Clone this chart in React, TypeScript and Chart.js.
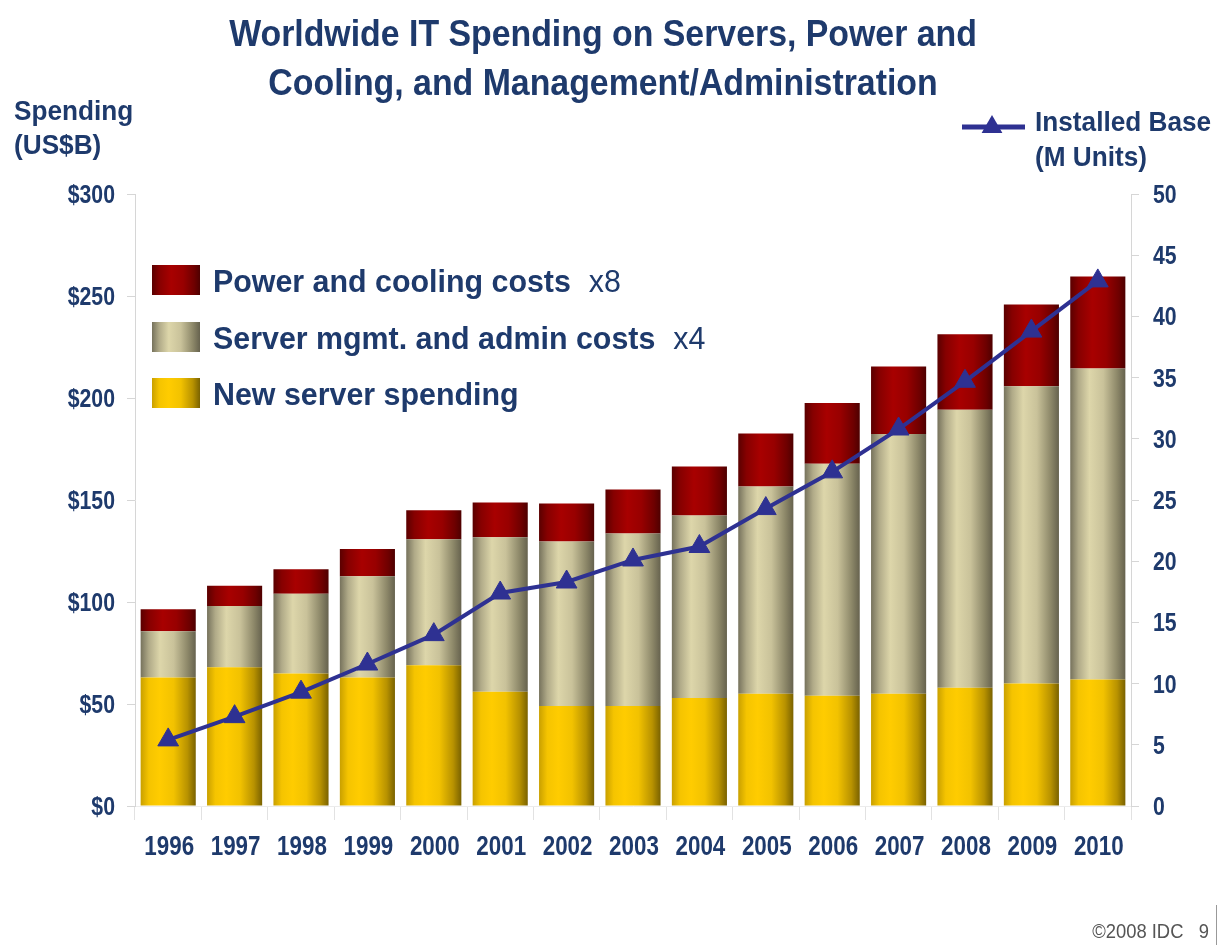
import React, { useEffect, useRef } from "react";
import { Chart, registerables } from "chart.js";

Chart.register(...registerables);

const YEARS = ["1996", "1997", "1998", "1999", "2000", "2001", "2002", "2003", "2004", "2005", "2006", "2007", "2008", "2009", "2010"];
const NEW_SERVER = [63, 68, 65, 63, 69, 56, 49, 49, 53, 55, 54, 55, 58, 60, 62];
const MGMT_ADMIN = [22.7, 30, 39, 49.6, 61.7, 75.7, 80.7, 84.6, 89.4, 101.6, 113.8, 127.4, 136.2, 145.8, 152.5];
const POWER_COOLING = [10.7, 10, 12, 13.4, 14.3, 17.1, 18.6, 21.6, 24, 26, 29.8, 33.1, 37.1, 40, 45];
const INSTALLED_BASE = [5.4, 7.3, 9.3, 11.6, 14, 17.4, 18.3, 20.1, 21.2, 24.3, 27.3, 30.8, 34.7, 38.8, 42.9];

const TITLE_LINES = ["Worldwide IT Spending on Servers, Power and", "Cooling, and Management/Administration"];
const LEFT_AXIS_TITLE = ["Spending", "(US$B)"];
const RIGHT_AXIS_TITLE = ["Installed Base", "(M Units)"];
const LEGEND_ITEMS = [
  { label: "Power and cooling costs", mult: "x8" },
  { label: "Server mgmt. and admin costs", mult: "x4" },
  { label: "New server spending", mult: "" },
];
const FOOTER = "\u00A92008 IDC   9";

const NAVY = "#1e3a6c";
const LINE_COLOR = "#2e3192";
const BAR_PCT = 0.83;
const SANS = '"Liberation Sans", Arial, sans-serif';

type Stop = [number, string];
const YELLOW_STOPS: Stop[] = [[0, "#c9a000"], [0.15, "#f5c400"], [0.35, "#ffcc00"], [0.6, "#f2c200"], [0.85, "#b89200"], [1, "#7a6200"]];
const TAN_STOPS: Stop[] = [[0, "#76725c"], [0.15, "#b0aa88"], [0.35, "#ddd6aa"], [0.6, "#c9c29a"], [0.85, "#8d8869"], [1, "#66624e"]];
const RED_STOPS: Stop[] = [[0, "#5a0000"], [0.15, "#860000"], [0.4, "#a80000"], [0.65, "#980000"], [0.88, "#6e0000"], [1, "#4e0000"]];

function makeGrad(ctx: CanvasRenderingContext2D, x0: number, x1: number, stops: Stop[]) {
  const g = ctx.createLinearGradient(x0, 0, x1, 0);
  stops.forEach(([o, c]) => g.addColorStop(o, c));
  return g;
}

function barFill(stops: Stop[]) {
  return (c: any) => {
    const chart = c.chart;
    const xs = chart.scales && chart.scales.x;
    if (!xs || c.type !== "data" || !chart.chartArea) return stops[2][1];
    const cx = xs.getPixelForValue(c.dataIndex);
    const w = (xs.width / YEARS.length) * BAR_PCT;
    return makeGrad(chart.ctx, cx - w / 2, cx + w / 2, stops);
  };
}

function drawTriangle(ctx: CanvasRenderingContext2D, x: number, y: number, r: number) {
  ctx.beginPath();
  ctx.moveTo(x, y - r);
  ctx.lineTo(x + r * 0.866, y + r * 0.5);
  ctx.lineTo(x - r * 0.866, y + r * 0.5);
  ctx.closePath();
  ctx.fill();
}

// condensed text: draws with a horizontal squeeze
function condText(ctx: CanvasRenderingContext2D, text: string, x: number, y: number, align: CanvasTextAlign, sx: number) {
  ctx.save();
  ctx.translate(x, y);
  ctx.scale(sx, 1);
  ctx.textAlign = align;
  ctx.fillText(text, 0, 0);
  ctx.restore();
}

const tickLabelPlugin = {
  id: "tickLabelPlugin",
  afterDraw(chart: any) {
    const ctx: CanvasRenderingContext2D = chart.ctx;
    ctx.save();
    ctx.fillStyle = NAVY;
    ctx.textBaseline = "alphabetic";
    const xs = chart.scales.x;
    ctx.font = `bold 28px ${SANS}`;
    xs.ticks.forEach((t: any, i: number) => {
      const px = xs.getPixelForTick(i);
      condText(ctx, String(xs.getLabelForValue(t.value)), px + 1, 855, "center", 0.8);
    });
    const ys = chart.scales.y;
    ctx.font = `bold 25px ${SANS}`;
    ys.ticks.forEach((t: any) => {
      const py = ys.getPixelForValue(t.value);
      condText(ctx, "$" + t.value, 115, py + 9, "right", 0.85);
    });
    const y1 = chart.scales.y1;
    y1.ticks.forEach((t: any) => {
      const py = y1.getPixelForValue(t.value);
      condText(ctx, String(t.value), 1153, py + 9, "left", 0.85);
    });
    ctx.restore();
  },
};

const textPlugin = {
  id: "textPlugin",
  afterDraw(chart: any) {
    const ctx: CanvasRenderingContext2D = chart.ctx;
    ctx.save();
    ctx.fillStyle = NAVY;
    ctx.textBaseline = "alphabetic";

    // Title
    ctx.font = `bold 36px ${SANS}`;
    condText(ctx, TITLE_LINES[0], 603, 46, "center", 0.94);
    condText(ctx, TITLE_LINES[1], 603, 95, "center", 0.94);

    // Axis titles
    ctx.font = `bold 27px ${SANS}`;
    condText(ctx, LEFT_AXIS_TITLE[0], 14, 120, "left", 0.97);
    condText(ctx, LEFT_AXIS_TITLE[1], 14, 154, "left", 0.97);
    condText(ctx, RIGHT_AXIS_TITLE[0], 1035, 131, "left", 0.97);
    condText(ctx, RIGHT_AXIS_TITLE[1], 1035, 166, "left", 0.97);

    // Installed base legend marker
    ctx.strokeStyle = LINE_COLOR;
    ctx.lineWidth = 5;
    ctx.beginPath();
    ctx.moveTo(962, 127);
    ctx.lineTo(1025, 127);
    ctx.stroke();
    ctx.fillStyle = LINE_COLOR;
    drawTriangle(ctx, 992, 127, 12);

    // Legend
    const legendStops = [RED_STOPS, TAN_STOPS, YELLOW_STOPS];
    const rowTops = [265, 322, 378];
    LEGEND_ITEMS.forEach((item, i) => {
      const y = rowTops[i];
      ctx.fillStyle = makeGrad(ctx, 152, 200, legendStops[i]);
      ctx.fillRect(152, y, 48, 30);
      ctx.fillStyle = NAVY;
      ctx.font = `bold 31px ${SANS}`;
      const sx = 0.98;
      condText(ctx, item.label, 213, y + 27, "left", sx);
      if (item.mult) {
        const w = ctx.measureText(item.label).width * sx;
        ctx.font = `31px ${SANS}`;
        condText(ctx, item.mult, 213 + w + 18, y + 27, "left", sx);
      }
    });

    // Footer
    ctx.font = `20px ${SANS}`;
    ctx.fillStyle = "#555555";
    condText(ctx, FOOTER, 1209, 938, "right", 0.92);
    ctx.strokeStyle = "#999999";
    ctx.lineWidth = 1;
    ctx.beginPath();
    ctx.moveTo(1216.5, 905);
    ctx.lineTo(1216.5, 945);
    ctx.stroke();
    ctx.restore();
  },
};

export default function App() {
  const canvasRef = useRef<HTMLCanvasElement | null>(null);

  useEffect(() => {
    if (!canvasRef.current) return;
    const chart = new Chart(canvasRef.current, {
      type: "bar",
      data: {
        labels: YEARS,
        datasets: [
          {
            type: "line",
            label: "Installed Base (M Units)",
            data: INSTALLED_BASE,
            yAxisID: "y1",
            borderColor: LINE_COLOR,
            backgroundColor: LINE_COLOR,
            borderWidth: 4,
            pointStyle: "triangle",
            pointRadius: 12,
            pointBackgroundColor: LINE_COLOR,
            pointBorderColor: LINE_COLOR,
            pointBorderWidth: 1,
            tension: 0,
            order: 0,
          } as any,
          {
            type: "bar",
            label: "New server spending",
            data: NEW_SERVER,
            backgroundColor: barFill(YELLOW_STOPS) as any,
            stack: "s",
            yAxisID: "y",
            barPercentage: BAR_PCT,
            categoryPercentage: 1,
            order: 1,
          },
          {
            type: "bar",
            label: "Server mgmt. and admin costs",
            data: MGMT_ADMIN,
            backgroundColor: barFill(TAN_STOPS) as any,
            stack: "s",
            yAxisID: "y",
            barPercentage: BAR_PCT,
            categoryPercentage: 1,
            order: 1,
          },
          {
            type: "bar",
            label: "Power and cooling costs",
            data: POWER_COOLING,
            backgroundColor: barFill(RED_STOPS) as any,
            stack: "s",
            yAxisID: "y",
            barPercentage: BAR_PCT,
            categoryPercentage: 1,
            order: 1,
          },
        ],
      },
      options: {
        animation: false,
        responsive: false,
        maintainAspectRatio: false,
        layout: { padding: { top: 194, left: 0, right: 0, bottom: 0 } },
        plugins: {
          legend: { display: false },
          title: { display: false },
          tooltip: { enabled: false },
        },
        scales: {
          x: {
            stacked: true,
            offset: true,
            grid: { display: true, drawOnChartArea: false, drawTicks: true, tickLength: 14, color: "#e2e2e2", offset: true },
            border: { display: true, color: "#ececec" },
            ticks: { display: false, autoSkip: false },
            afterFit: (s: any) => { s.height = 945 - 806; },
          },
          y: {
            position: "left",
            stacked: true,
            min: 0,
            max: 300,
            grid: { display: true, drawOnChartArea: false, drawTicks: true, tickLength: 8, color: "#d6d6d6" },
            border: { display: true, color: "#d6d6d6" },
            ticks: { display: false, stepSize: 50 },
            afterFit: (s: any) => { s.width = 135; },
          },
          y1: {
            position: "right",
            min: 0,
            max: 50,
            grid: { display: true, drawOnChartArea: false, drawTicks: true, tickLength: 8, color: "#d6d6d6" },
            border: { display: true, color: "#d6d6d6" },
            ticks: { display: false, stepSize: 5 },
            afterFit: (s: any) => { s.width = 1218 - 1131; },
          },
        },
      },
      plugins: [tickLabelPlugin, textPlugin],
    });
    return () => chart.destroy();
  }, []);

  return (
    <div style={{ position: "fixed", left: 0, top: 0, width: 1218, height: 945, background: "#ffffff" }}>
      <canvas ref={canvasRef} width={1218} height={945} style={{ width: 1218, height: 945, display: "block" }} />
    </div>
  );
}
